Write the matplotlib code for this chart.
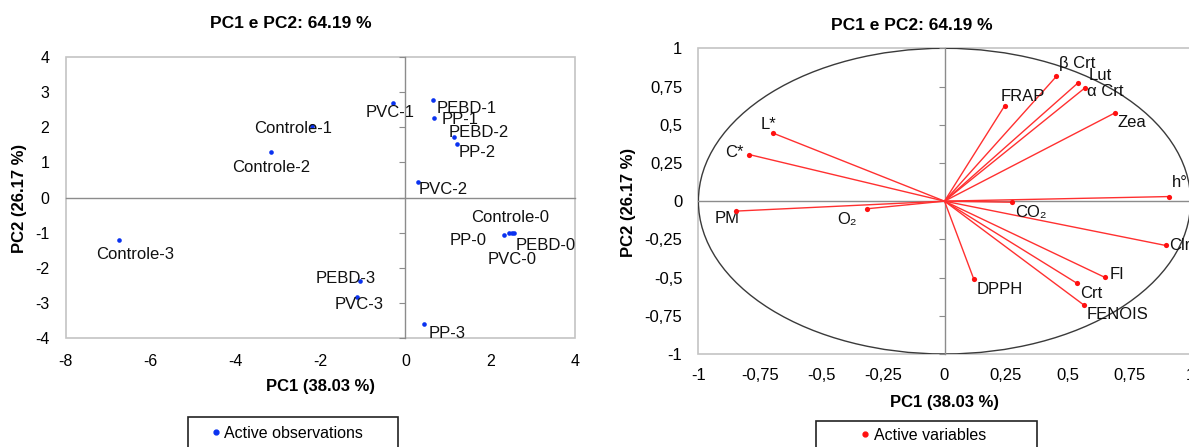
import numpy as np
import matplotlib
matplotlib.use("Agg")
import matplotlib.pyplot as plt
from matplotlib.patches import Ellipse, Rectangle
from matplotlib.lines import Line2D

plt.rcParams['font.family'] = ['Liberation Sans', 'DejaVu Sans']
plt.rcParams['axes.unicode_minus'] = False

# ---------------------------------------------------------------------
# Data: observations (left) and variables (right)
obs_names = ["Controle-0", "PP-0", "PEBD-0", "PVC-0",
             "Controle-1", "PP-1", "PEBD-1", "PVC-1",
             "Controle-2", "PP-2", "PEBD-2", "PVC-2",
             "Controle-3", "PP-3", "PEBD-3", "PVC-3"]
obs_pc1 = [2.33, 2.44, 2.52, 2.56,
           -2.20, 0.67, 0.64, -0.29,
           -3.17, 1.21, 1.14, 0.29,
           -6.75, 0.43, -1.06, -1.13]
obs_pc2 = [-1.06, -1.02, -1.02, -1.02,
           2.03, 2.25, 2.76, 2.68,
           1.28, 1.52, 1.71, 0.45,
           -1.21, -3.59, -2.37, -2.82]

var_names = ["β Crt", "Lut", "α Crt", "FRAP", "Zea", "L*", "C*", "h°",
             "CO₂", "PM", "O₂", "Clr", "FI", "Crt", "FENOIS", "DPPH"]
var_pc1 = [0.455, 0.542, 0.569, 0.244, 0.692, -0.695, -0.794, 0.911,
           0.275, -0.847, -0.316, 0.899, 0.652, 0.539, 0.565, 0.119]
var_pc2 = [0.817, 0.773, 0.739, 0.623, 0.577, 0.444, 0.305, 0.030,
           -0.007, -0.065, -0.050, -0.290, -0.499, -0.538, -0.678, -0.510]

left_xticks = [-8, -6, -4, -2, 0, 2, 4]
left_yticks = [-4, -3, -2, -1, 0, 1, 2, 3, 4]
right_ticks = [-1, -0.75, -0.5, -0.25, 0, 0.25, 0.5, 0.75, 1]
right_ticklabels = ["-1", "-0,75", "-0,5", "-0,25", "0", "0,25", "0,5", "0,75", "1"]

title = "PC1 e PC2: 64.19 %"
xlab = "PC1 (38.03 %)"
ylab = "PC2 (26.17 %)"

# label placement (pixels: dx right, dy down, horizontal alignment)
obs_offsets = {
  "PVC-1": (-3, 9, "center"), "PEBD-1": (4, 8, "left"), "PP-1": (8, 1, "left"),
  "PEBD-2": (-5, -5, "left"), "PP-2": (2, 9, "left"), "PVC-2": (1, 8, "left"),
  "Controle-1": (-19, 2, "center"), "Controle-2": (0, 15, "center"),
  "Controle-3": (16, 14, "center"), "Controle-0": (6, -17, "center"),
  "PP-0": (-22, 7, "right"), "PEBD-0": (3, 12, "left"), "PVC-0": (-2, 26, "center"),
  "PEBD-3": (-15, -2, "center"), "PVC-3": (2, 8, "center"), "PP-3": (5, 10, "left"),
}
var_offsets = {
  "β Crt": (3, -13, "left"), "Lut": (11, -7, "left"), "α Crt": (2, 3, "left"),
  "FRAP": (18, -9, "center"), "Zea": (3, 10, "left"), "L*": (-5, -9, "center"),
  "C*": (-5, -2, "right"), "h°": (3, -14, "left"), "CO₂": (3, 10, "left"),
  "PM": (-9, 7, "center"), "O₂": (-20, 11, "center"), "Clr": (3, 0, "left"),
  "FI": (5, -3, "left"), "Crt": (3, 10, "left"), "FENOIS": (3, 10, "left"),
  "DPPH": (3, 10, "left"),
}

W, H = 1189, 447
fig = plt.figure(figsize=(W / 100, H / 100), dpi=100)

def px(x, y):
  return x / W, 1 - y / H

def style_axis(ax, tick_size, ypad, xpad):
  for s in ["left", "bottom"]:
    ax.spines[s].set_visible(False)
  ax.spines["right"].set_position(("data", 0))
  ax.spines["top"].set_position(("data", 0))
  for s in ["right", "top"]:
    ax.spines[s].set_color("#8c8c8c")
    ax.spines[s].set_linewidth(1)
  ax.patch.set_edgecolor("#c4c4c4")
  ax.patch.set_linewidth(1.2)
  ax.tick_params(axis="y", left=False, right=True, labelleft=True, labelright=False,
                 direction="in", length=4, color="#8c8c8c", pad=ypad, labelsize=tick_size)
  ax.tick_params(axis="x", bottom=True, top=False, length=0, pad=xpad, labelsize=tick_size)

# ---------------------------------------------------------------------
# Left: observations
ax1 = fig.add_axes([65.8 / W, 1 - 338.3 / H, 509.4 / W, 281.6 / H])
ax1.scatter(obs_pc1, obs_pc2, s=11, color="#0a32f0", zorder=3, linewidths=0)
ax1.set_xlim(-8, 4)
ax1.set_ylim(-4, 4)
ax1.set_xticks(left_xticks)
ax1.set_yticks(left_yticks)
style_axis(ax1, 11.5, 12, 11)

for n, x, y in zip(obs_names, obs_pc1, obs_pc2):
  dx, dy, ha = obs_offsets[n]
  ax1.annotate(n, (x, y), xytext=(dx * 0.72, -dy * 0.72), textcoords="offset points",
               ha=ha, va="center", fontsize=12, color="#111111")

# ---------------------------------------------------------------------
# Right: variables (correlation circle)
ax2 = fig.add_axes([698.4 / W, 1 - 354 / H, 492.2 / W, 305.7 / H])
ax2.add_patch(Ellipse((0, 0), 2, 2, fill=False, edgecolor="#3a3a3a", linewidth=1))
for x, y in zip(var_pc1, var_pc2):
  ax2.plot([0, x], [0, y], color="#ff3030", linewidth=1, zorder=3)
ax2.scatter(var_pc1, var_pc2, s=14, color="#ff1010", zorder=4, linewidths=0)
ax2.set_xlim(-1, 1)
ax2.set_ylim(-1, 1)
ax2.set_xticks(right_ticks)
ax2.set_xticklabels(right_ticklabels)
ax2.set_yticks(right_ticks)
ax2.set_yticklabels(right_ticklabels)
style_axis(ax2, 12, 11.5, 10)

for n, x, y in zip(var_names, var_pc1, var_pc2):
  dx, dy, ha = var_offsets[n]
  ax2.annotate(n, (x, y), xytext=(dx * 0.72, -dy * 0.72), textcoords="offset points",
               ha=ha, va="center", fontsize=12, color="#111111", annotation_clip=False)

# ---------------------------------------------------------------------
# Titles and axis labels
fig.text(*px(291, 24), title, ha="center", va="center", fontsize=12.5, fontweight="bold")
fig.text(*px(912, 26), title, ha="center", va="center", fontsize=12.5, fontweight="bold")
fig.text(*px(321, 387), xlab, ha="center", va="center", fontsize=12, fontweight="bold")
fig.text(*px(944, 402), xlab, ha="center", va="center", fontsize=12, fontweight="bold")
fig.text(*px(20, 198), ylab, ha="center", va="center", rotation=90, fontsize=12, fontweight="bold")
fig.text(*px(628, 202), ylab, ha="center", va="center", rotation=90, fontsize=12, fontweight="bold")

# Legends with box
def add_legend(ax, label, color, marker_x, text_y, box_x0, box_x1, box_top):
  h = Line2D([], [], linestyle="none", marker="o", markersize=3.5, color=color)
  fs = 11.5
  fs_px = fs * 100 / 72
  hl = 8 / fs_px
  leg = ax.legend([h], [label], frameon=False, loc="center left",
                  bbox_to_anchor=px(marker_x - 4, text_y), bbox_transform=fig.transFigure,
                  borderpad=0, borderaxespad=0, handlelength=hl,
                  handletextpad=5 / fs_px, fontsize=fs)
  x0, y0 = px(box_x0, box_top)
  fig.add_artist(Rectangle((x0, -0.1), (box_x1 - box_x0) / W, y0 + 0.1,
                           transform=fig.transFigure, fill=False,
                           edgecolor="#222222", linewidth=1.2, clip_on=False))
  return leg

add_legend(ax1, "Active observations", "#0a32f0", 215.5, 433, 187.5, 398, 417.3)
add_legend(ax2, "Active variables", "#ff1010", 865, 435, 816, 1037, 420.7)

fig.savefig("out.png", dpi=100)
